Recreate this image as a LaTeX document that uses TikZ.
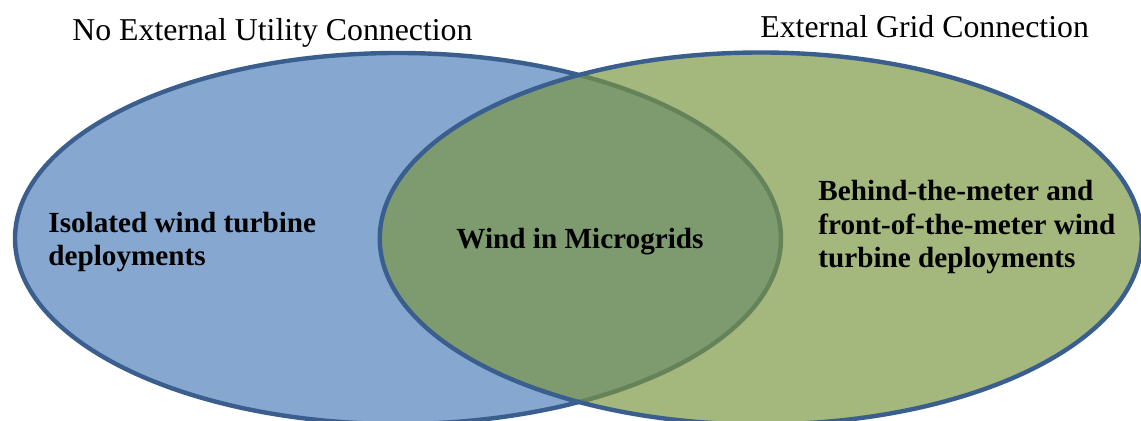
\documentclass[tikz,border=0pt]{standalone}
\usepackage{fontspec}
\setmainfont{Liberation Serif}

\definecolor{leftfill}{RGB}{134,168,208}
\definecolor{rightfill}{RGB}{121,149,64}
\definecolor{rimblue}{RGB}{58,95,143}

\tikzset{
  rim/.style={draw=rimblue, line width=2.2pt},
  heading/.style={anchor=base west, inner sep=0pt, font=\fontsize{15.9}{19}\selectfont},
  % multi-line labels are placed at the baseline of their last line
  setlabel/.style={anchor=base west, inner sep=0pt, align=left,
    font=\fontsize{14.6}{16.75}\selectfont\bfseries}
}

\begin{document}
\begin{tikzpicture}[x=0.5pt,y=-0.5pt]
  \useasboundingbox (0,0) rectangle (1141,421);
  \clip (0,0) rectangle (1141,421);
  \fill[white] (0,0) rectangle (1141,421);

  % the two sets
  \coordinate (cL) at (398,238.5);
  \coordinate (cR) at (760.75,238.5);
  \path[fill=leftfill, rim] (cL) ellipse [x radius=191.5pt, y radius=92.75pt];
  \fill[rightfill, fill opacity=0.68] (cR) ellipse [x radius=190.5pt, y radius=93pt];
  \path[rim] (cR) ellipse [x radius=190.5pt, y radius=93pt];

  % headings above the sets
  \node[heading] (hL) at (72,41) {No External Utility Connection};
  \node[heading] (hR) at (760,38) {External Grid Connection};

  % set contents
  \node[setlabel] (iso) at (48,266) {Isolated wind turbine\\deployments};
  \node[setlabel] (mid) at (456,249) {Wind in Microgrids};
  \node[setlabel] (btm) at (818,268) {Behind-the-meter and\\front-of-the-meter wind\\turbine deployments};
\end{tikzpicture}
\end{document}
